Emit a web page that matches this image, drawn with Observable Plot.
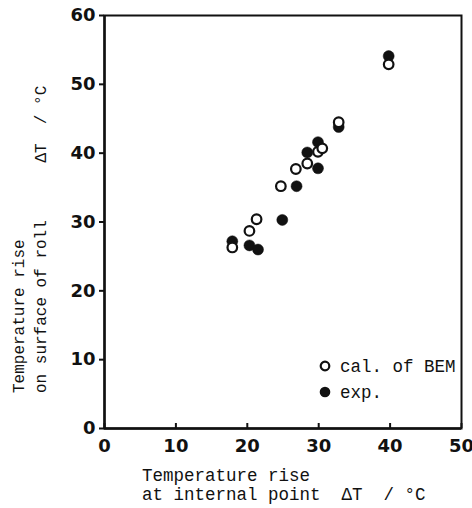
<!DOCTYPE html>
<html>
<head>
<meta charset="utf-8">
<script src="https://cdn.jsdelivr.net/npm/d3@7"></script>
<script src="https://cdn.jsdelivr.net/npm/@observablehq/plot@0.6"></script>
<style>
  html, body { margin: 0; padding: 0; background: #fff; }
  #wrap { position: relative; width: 472px; height: 508px; overflow: hidden; }
  .lab { position: absolute; font-family: "Liberation Mono", "DejaVu Sans Mono", monospace; color: #111; white-space: pre; pointer-events: none; }
</style>
</head>
<body>
<div id="wrap"></div>
<script>
// Data
const calX = [17.9, 20.3, 21.3, 24.7, 26.8, 28.4, 29.9, 30.5, 32.8, 39.8];
const calY = [26.3, 28.7, 30.4, 35.2, 37.7, 38.5, 40.2, 40.7, 44.5, 52.9];
const expX = [17.9, 20.3, 21.5, 24.9, 26.9, 28.4, 29.9, 29.9, 32.8, 39.8];
const expY = [27.2, 26.6, 26.0, 30.3, 35.2, 40.1, 41.6, 37.8, 43.8, 54.1];
const xTicks = [0, 10, 20, 30, 40, 50];
const yTicks = [0, 10, 20, 30, 40, 50, 60];
const seriesNames = ["cal. of BEM", "exp."];
const xLabel = ["Temperature rise", "at internal point  \u0394T  / \u00B0C"];
const yLabel = ["Temperature rise", "on surface of roll      \u0394T  / \u00B0C"];

const cal = calX.map((x, i) => ({x, y: calY[i]}));
const exp = expX.map((x, i) => ({x, y: expY[i]}));

const tickFont = {fontFamily: "DejaVu Sans", fontWeight: "bold", fontSize: 18};

const chart = Plot.plot({
  width: 472,
  height: 508,
  marginLeft: 104,
  marginRight: 11,
  marginTop: 15,
  marginBottom: 80,
  style: {background: "#fff", color: "#111", fontFamily: "DejaVu Sans", fontSize: "18px", fontWeight: "bold"},
  x: {domain: [0, 50], label: null},
  y: {domain: [0, 60], label: null},
  marks: [
    Plot.frame({stroke: "#111", strokeWidth: 2}),
    Plot.axisX({ticks: xTicks, tickSize: -5, stroke: "#111", strokeWidth: 2, tickFormat: () => ""}),
    Plot.axisX({ticks: xTicks, tickSize: 0, tickPadding: 11, tickFormat: d => String(d), ...tickFont}),
    Plot.axisY({ticks: yTicks, tickSize: 5, tickPadding: 4, strokeWidth: 2, tickFormat: d => String(d), ...tickFont}),
    Plot.ruleX([0], {stroke: "#111", strokeWidth: 2.4}),
    Plot.ruleY([0], {stroke: "#111", strokeWidth: 2.4}),
    Plot.dot(exp, {x: "x", y: "y", r: 5.5, fill: "#111", stroke: "#111", strokeWidth: 0.5}),
    Plot.dot(cal, {x: "x", y: "y", r: 4.8, fill: "#fff", stroke: "#111", strokeWidth: 2.2})
  ]
});

const wrap = document.getElementById("wrap");
wrap.appendChild(chart);

// X axis label
const xl = document.createElement("div");
xl.className = "lab";
xl.style.cssText = "left:142px; top:467px; font-size:17.5px; line-height:19px;";
xl.textContent = xLabel.join("\n");
wrap.appendChild(xl);

// Y axis label (rotated)
const yl = document.createElement("div");
yl.className = "lab";
yl.style.cssText = "left:9px; top:393px; font-size:16px; line-height:22px; transform-origin:0 0; transform:rotate(-90deg);";
yl.textContent = yLabel.join("\n");
wrap.appendChild(yl);

// Legend
const leg = document.createElement("div");
leg.className = "lab";
leg.style.cssText = "left:318px; top:354px; font-size:17.5px; line-height:26px;";
const symbols = [
  '<svg width="14" height="14" style="vertical-align:-1px;margin-right:8px"><circle cx="7" cy="7" r="4.3" fill="#fff" stroke="#111" stroke-width="2.2"/></svg>',
  '<svg width="14" height="14" style="vertical-align:-1px;margin-right:8px"><circle cx="7" cy="7" r="5.3" fill="#111"/></svg>'
];
leg.innerHTML = seriesNames.map((n, i) => `<div>${symbols[i]}${n}</div>`).join("");
wrap.appendChild(leg);
</script>
</body>
</html>
